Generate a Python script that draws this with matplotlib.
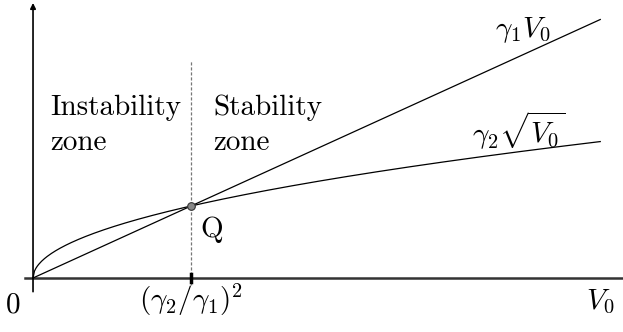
import matplotlib
matplotlib.use('Agg')
import matplotlib.pyplot as plt
import numpy as np

plt.rcParams['mathtext.fontset'] = 'cm'
plt.rcParams['font.family'] = ['cmr10', 'DejaVu Serif']

# parameters of the sketch (Q sits at V0 = (g2/g1)^2 = 1)
gamma1 = 1.0
gamma2 = 1.0
v0_max = 3.59

xlim = (-0.209, 3.734)
ylim = (-0.75, 3.861)

v0 = np.linspace(0, v0_max, 400)
v_q = (gamma2 / gamma1) ** 2
y_q = gamma1 * v_q

fig = plt.figure(figsize=(6.23, 3.32), dpi=100)
ax = fig.add_axes([0, 0, 1, 1])
ax.set_xlim(*xlim)
ax.set_ylim(*ylim)
ax.axis('off')

# axes with arrows
ax.annotate('', xy=(0, 3.82), xytext=(0, -0.19),
            arrowprops=dict(arrowstyle='-|>', lw=1.2, color='black',
                            mutation_scale=8, shrinkA=0, shrinkB=0))
ax.plot([-0.05, xlim[1]], [0, 0], color='#333333', lw=1.8)

# curves
ax.plot(v0, gamma1 * v0, color='black', lw=0.9)
ax.plot(v0, gamma2 * np.sqrt(v0), color='black', lw=0.9)

# dashed separation and tick
ax.plot([v_q, v_q], [-0.1, 3.03], color='#777777', lw=0.9, ls=(0, (2.5, 1.5)))
ax.plot([v_q, v_q], [-0.05, 0.05], color='black', lw=2.5)
ax.plot([v_q], [y_q], 'o', ms=5.5, mfc='#888888', mec='#333333', mew=0.8)

fs = 21
ax.text(0.107, 2.12, 'Instability\nzone', fontsize=fs, va='center', ha='left',
        linespacing=1.4)
ax.text(1.139, 2.12, 'Stability\nzone', fontsize=fs, va='center', ha='left',
        linespacing=1.4)
ax.text(1.06, 0.67, 'Q', fontsize=fs, va='center', ha='left')
ax.text(3.10, 3.44, r'$\gamma_1 V_0$', fontsize=fs, ha='center', va='center')
ax.text(3.076, 2.04, r'$\gamma_2\sqrt{V_0}$', fontsize=fs, ha='center', va='center')
ax.text(-0.127, -0.375, '0', fontsize=fs, ha='center', va='center')
ax.text(v_q, -0.3, r'$(\gamma_2/\gamma_1)^2$', fontsize=fs, ha='center', va='center')
ax.text(3.59, -0.33, r'$V_0$', fontsize=fs, ha='center', va='center')

fig.savefig('out.png', dpi=100)
